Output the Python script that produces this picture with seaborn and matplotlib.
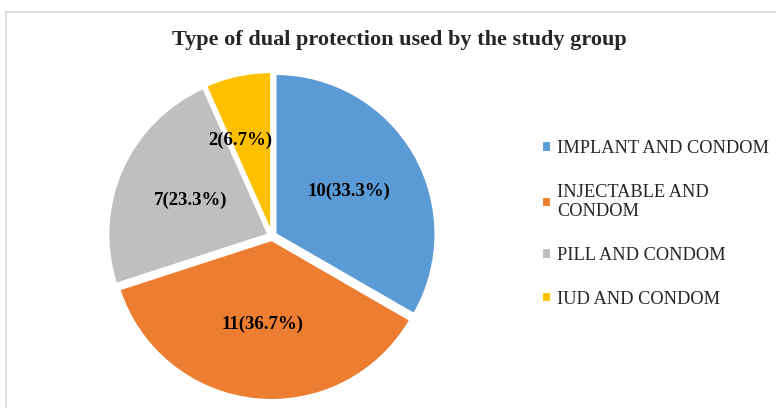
import matplotlib
matplotlib.use("Agg")
import matplotlib.pyplot as plt
import seaborn as sns
from matplotlib.lines import Line2D

# podaci sa slike
kategorije = ["IMPLANT AND CONDOM", "INJECTABLE AND\nCONDOM", "PILL AND CONDOM", "IUD AND CONDOM"]
broj = [10, 11, 7, 2]
boje = ["#5B9BD5", "#ED7D31", "#BFBFBF", "#FFC000"]
naslov = "Type of dual protection used by the study group"

sns.set_theme(style="white")
plt.rcParams["font.family"] = ["Liberation Serif", "DejaVu Serif"]

fig = plt.figure(figsize=(7.76, 4.08), dpi=100)
fig.patch.set_facecolor("white")

# okvir oko grafika (samo gornja i leva ivica se vide)
fig.add_artist(Line2D([6 / 776, 1.0], [1 - 11.5 / 408] * 2, color="#D9D9D9", lw=1.2))
fig.add_artist(Line2D([6 / 776] * 2, [0.0, 1 - 11.5 / 408], color="#D9D9D9", lw=1.2))

ax = fig.add_axes([108 / 776, 8 / 408, 328 / 776, 328 / 408])
ukupno = sum(broj)


def oznaka(pct):
    n = int(round(pct * ukupno / 100))
    return f"{n}({pct:.1f}%)"


wedges, _, tekstovi = ax.pie(
    broj,
    colors=boje,
    startangle=90,
    counterclock=False,
    explode=[0.025] * 4,
    autopct=oznaka,
    pctdistance=0.53,
    wedgeprops=dict(edgecolor="white", linewidth=1.5),
    textprops=dict(fontsize=13.5, fontweight="bold", color="black"),
)
# mala korekcija za najmanju krisku
tekstovi[3].set_position((-0.2, 0.6))
ax.set_xlim(-1.025, 1.025)
ax.set_ylim(-1.025, 1.025)
ax.set_aspect("auto")
ax.axis("off")

fig.text(399 / 776, 1 - 40 / 408, naslov, ha="center", va="center",
         fontsize=16, fontweight="bold")

fig.legend(
    wedges, kategorije,
    loc="upper left",
    bbox_to_anchor=(533 / 776, 1 - 131 / 408),
    frameon=False,
    fontsize=13.2,
    labelspacing=1.45,
    handlelength=0.5,
    handleheight=0.5,
    handletextpad=0.3,
    borderpad=0,
)

plt.savefig("out.png", dpi=100)
